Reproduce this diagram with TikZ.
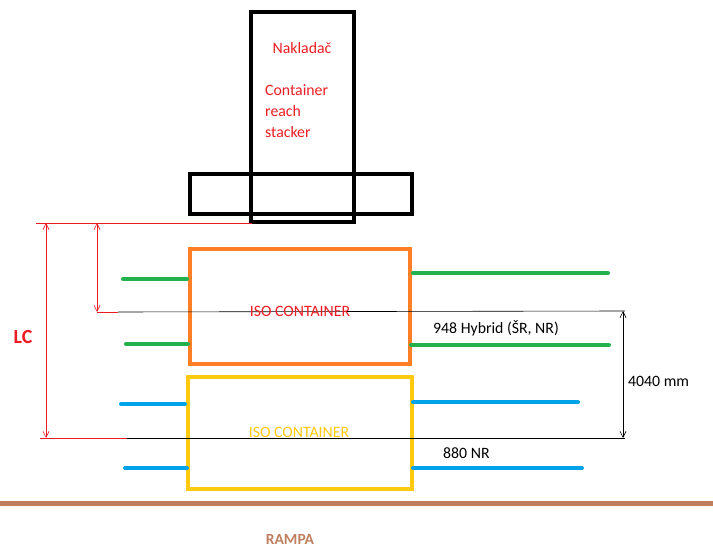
\documentclass[tikz,border=0pt]{standalone}
\usepackage{fontspec}
\setmainfont{Carlito}
\usetikzlibrary{arrows.meta}
\definecolor{pred}{RGB}{237,28,36}
\definecolor{porange}{RGB}{255,127,39}
\definecolor{pyellow}{RGB}{255,201,14}
\definecolor{pgreen}{RGB}{34,177,76}
\definecolor{pblue}{RGB}{0,162,232}
\definecolor{pbrown}{RGB}{192,128,96}
\begin{document}
\begin{tikzpicture}[x=1pt,y=-1pt,
  frame/.style={line width=4pt},
  bar/.style={line width=4pt,line cap=round},
  lbl/.style={inner sep=0pt,font=\fontsize{15.8}{19}\selectfont},
  dim/.style={line width=0.6pt},
  dimarrow/.style={line width=0.6pt,{Straight Barb[length=6pt,width=6pt]}-{Straight Barb[length=6pt,width=6pt]}}]
\useasboundingbox[fill=white] (0,0) rectangle (713,548);
% reach stacker
\draw[frame] (251,12) rectangle (354,222);
\draw[frame] (190,174) rectangle (412,214);
\node[lbl,text=pred] (nak) at (302,48) {Nakladač};
\node[lbl,text=pred,align=left,anchor=north west,font=\fontsize{15.8}{21}\selectfont] (crs) at (265,84) {Container\\reach\\stacker};
% containers
\draw[frame,porange] (190,249) rectangle (410,364);
\draw[frame,pyellow] (188,377) rectangle (412,489);
% green bars
\draw[bar,pgreen] (123,279) -- (187,279);
\draw[bar,pgreen] (126,344) -- (188,344);
\draw[bar,pgreen] (413,273) -- (608,273);
\draw[bar,pgreen] (411,345) -- (609,345);
% blue bars
\draw[bar,pblue] (121,404) -- (185,404);
\draw[bar,pblue] (125,468) -- (187,468);
\draw[bar,pblue] (413,402) -- (578,402);
\draw[bar,pblue] (413,468) -- (582,468);
% dimension reference lines
\coordinate (t0) at (36,223);
\coordinate (t1) at (252,223);
\draw[dim,pred] (t0) -- (t1);
\coordinate (lcT) at (46,223);
\coordinate (lcB) at (46,438);
\coordinate (sT) at (97,223);
\coordinate (sB) at (97,312);
\coordinate (m0) at (97,312);
\coordinate (m1) at (118,312);
\coordinate (m2) at (625,311);
\coordinate (b0) at (40,438);
\coordinate (b1) at (127,438);
\coordinate (b2) at (625,438);
\draw[dim,pred] (m0) -- (m1);
\draw[dim,black] (m1) -- (m2);
\draw[dim,pred] (b0) -- (b1);
\draw[dim,black] (b1) -- (b2);
\draw[dimarrow,pred] (lcT) -- (lcB);
\draw[dimarrow,pred] (sT) -- (sB);
\coordinate (dT) at (623,311);
\coordinate (dB) at (623,438);
\draw[dimarrow,black] (dT) -- (dB);
% labels
\node[lbl,text=pred,font=\bfseries\fontsize{20}{24}\selectfont] (lc) at (23,337) {LC};
\node[lbl,text=pred] (iso1) at (300,311) {ISO CONTAINER};
\node[lbl,text=pyellow] (iso2) at (299,432) {ISO CONTAINER};
\node[lbl,anchor=west] (hyb) at (433,328) {948 Hybrid (ŠR, NR)};
\node[lbl,anchor=west] (nr) at (443,453) {880 NR};
\node[lbl,anchor=west] (mm) at (628,381) {4040 mm};
% ramp
\coordinate (r0) at (0,503);
\coordinate (r1) at (713,503);
\draw[line width=5pt,pbrown] (r0) -- (r1);
\node[lbl,text=pbrown,anchor=base,font=\bfseries\fontsize{15.5}{18}\selectfont] (rampa) at (290,544) {RAMPA};
\end{tikzpicture}
\end{document}
